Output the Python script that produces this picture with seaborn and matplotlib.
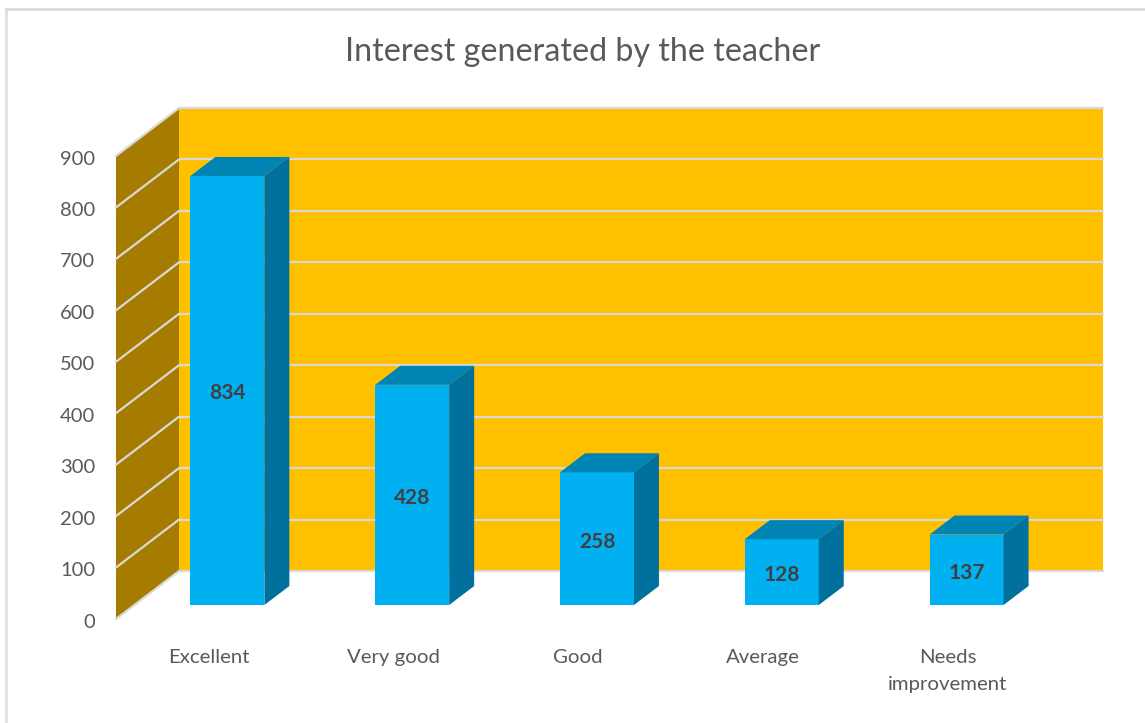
import numpy as np
import pandas as pd
import seaborn as sns
import matplotlib
matplotlib.use("Agg")
import matplotlib.pyplot as plt
from matplotlib.patches import Polygon
from matplotlib.lines import Line2D
from matplotlib.transforms import ScaledTranslation

# data
kategori = ["Excellent", "Very good", "Good", "Average", "Needs\nimprovement"]
nilai = [834, 428, 258, 128, 137]
tick_y = [0, 100, 200, 300, 400, 500, 600, 700, 800, 900]
judul = "Interest generated by the teacher"

W, H = 1145, 723
# front plane of the 3D box, in pixels
X0, X1, Y_NOL, Y_ATAS = 116, 1040, 619, 156
# depth offsets of the bars and the back wall
BAR_DX, BAR_DY = 19, 14
BAR_DEPTH_X, BAR_DEPTH_Y = 25, 19
BACK_DX, BACK_DY = 63, 48

WARNA_DINDING = "#FFC000"
WARNA_KIRI = "#A67C00"
WARNA_GRID = "#D9D9D9"
WARNA_BAR = "#00B0F0"
WARNA_ATAS = "#0084B4"
WARNA_SISI = "#00709C"
WARNA_TEKS = "#595959"

sns.set_theme(style="white")
plt.rcParams["font.family"] = ["Lato", "DejaVu Sans"]


def buat_axes(fig, dx=0, dy=0):
    # dx moves the plane right, dy moves it up, both in pixels
    rect = [(X0 + dx) / W, (H - Y_NOL + dy) / H, (X1 - X0) / W, (Y_NOL - Y_ATAS) / H]
    ax = fig.add_axes(rect)
    ax.set_xlim(-0.5, len(kategori) - 0.5)
    ax.set_ylim(tick_y[0], tick_y[-1])
    ax.patch.set_alpha(0)
    sns.despine(ax=ax, left=True, bottom=True)
    return ax


fig = plt.figure(figsize=(W / 100, H / 100), dpi=100, facecolor="white")

# outer chart border (only top and left are visible in the source)
fig.add_artist(Line2D([6 / W, 6 / W], [0, 1 - 9 / H], color="#E0E0E0", lw=2))
fig.add_artist(Line2D([6 / W, 1], [1 - 9 / H, 1 - 9 / H], color="#D9D9D9", lw=2))

# back wall
ax_back = buat_axes(fig, BACK_DX, BACK_DY)
ax_back.patch.set_alpha(1)
ax_back.set_facecolor(WARNA_DINDING)
ax_back.set_xticks([])
ax_back.set_yticks(tick_y)
ax_back.set_yticklabels([])
ax_back.tick_params(length=0)
ax_back.grid(axis="y", color=WARNA_GRID, lw=1.6)
for g in ax_back.get_ygridlines():
    g.set_clip_on(False)

# front plane only carries the axis labels
ax_depan = buat_axes(fig)
ax_depan.set_xticks(range(len(kategori)))
ax_depan.set_xticklabels(kategori, fontsize=14.7, color=WARNA_TEKS, linespacing=1.75, va="top")
ax_depan.set_yticks(tick_y)
ax_depan.set_yticklabels(tick_y, fontsize=14.5, color=WARNA_TEKS)
ax_depan.tick_params(axis="x", length=0, pad=21.5)
ax_depan.tick_params(axis="y", length=0, pad=15)
geser_y = ScaledTranslation(0, -1.5 / 100, fig.dpi_scale_trans)
for lbl in ax_depan.get_yticklabels():
    lbl.set_transform(lbl.get_transform() + geser_y)

# left wall, skewed between the front plane and the back wall
fig_tr = fig.transFigure.inverted()


def ke_fig(ax, x, y):
    return fig_tr.transform(ax.transData.transform((x, y)))


xl = -0.5
kiri = [ke_fig(ax_depan, xl, tick_y[0]), ke_fig(ax_depan, xl, tick_y[-1]),
        ke_fig(ax_back, xl, tick_y[-1]), ke_fig(ax_back, xl, tick_y[0])]
fig.add_artist(Polygon(kiri, closed=True, facecolor=WARNA_KIRI, edgecolor="none",
                       transform=fig.transFigure, zorder=0.5))
for v in tick_y:
    a = ke_fig(ax_depan, xl, v)
    b = ke_fig(ax_back, xl, v)
    fig.add_artist(Line2D([a[0], b[0]], [a[1], b[1]], color=WARNA_GRID, lw=1.6,
                          transform=fig.transFigure, zorder=0.6))

# bars
ax_bar = buat_axes(fig, BAR_DX, BAR_DY)
ax_bar.set_zorder(3)
df = pd.DataFrame({"kategori": kategori, "nilai": nilai})
sns.barplot(data=df, x="kategori", y="nilai", color=WARNA_BAR, saturation=1,
            width=0.4, ax=ax_bar, zorder=3, linewidth=0)
ax_bar.set_xlim(-0.5, len(kategori) - 0.5)
ax_bar.set_ylim(tick_y[0], tick_y[-1])
ax_bar.set_xticks([])
ax_bar.set_yticks([])
ax_bar.set_xlabel("")
ax_bar.set_ylabel("")

# top and side faces are extruded from each bar, in pixels
tr_px = ax_bar.transData
inv_px = tr_px.inverted()
for batang in list(ax_bar.patches):
    batang.set_clip_on(False)
    xa, xb = batang.get_x(), batang.get_x() + batang.get_width()
    tinggi = batang.get_height()
    kiri_atas = tr_px.transform((xa, tinggi))
    kanan_atas = tr_px.transform((xb, tinggi))
    kanan_bawah = tr_px.transform((xb, 0))
    d = np.array([BAR_DEPTH_X, BAR_DEPTH_Y])
    atas = inv_px.transform([kiri_atas, kanan_atas, kanan_atas + d, kiri_atas + d])
    sisi = inv_px.transform([kanan_atas, kanan_bawah, kanan_bawah + d, kanan_atas + d])
    ax_bar.add_patch(Polygon(atas, closed=True, facecolor=WARNA_ATAS, edgecolor="none",
                             clip_on=False, zorder=3))
    ax_bar.add_patch(Polygon(sisi, closed=True, facecolor=WARNA_SISI, edgecolor="none",
                             clip_on=False, zorder=3))
    ax_bar.annotate(str(int(tinggi)), ((xa + xb) / 2, tinggi / 2), xytext=(0, -3),
                    textcoords="offset pixels", ha="center", va="center",
                    fontsize=15, fontweight="bold", color="#404040", zorder=4)

fig.text(583 / W, 1 - 52 / H, judul, ha="center", va="center", fontsize=23.2, color=WARNA_TEKS)

fig.savefig("out.png", dpi=100)
